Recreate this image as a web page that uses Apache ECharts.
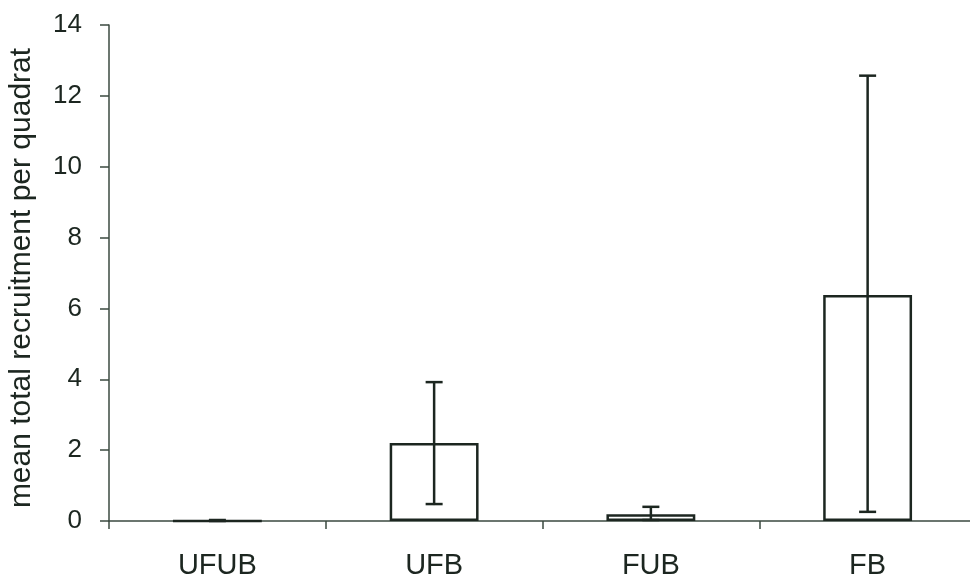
<!DOCTYPE html>
<html>
<head>
<meta charset="utf-8">
<script src="https://cdn.jsdelivr.net/npm/echarts@6/dist/echarts.min.js"></script>
<style>
html,body{margin:0;padding:0;background:#fff;}
#chart{width:970px;height:581px;}
</style>
</head>
<body>
<div id="chart"></div>
<script>
var categories = ['UFUB', 'UFB', 'FUB', 'FB'];
var means = [0, 2.2, 0.19, 6.38];
var errLow = [0, 0.45, 0, 0.23];
var errHigh = [0, 3.92, 0.4, 12.57];
var yTicks = [0, 2, 4, 6, 8, 10, 12, 14];

var ink = '#1c2620';
var axisInk = '#3b4a40';
var font = 'Liberation Sans, Arial, sans-serif';
var chart = echarts.init(document.getElementById('chart'));

var errData = categories.map(function (c, i) { return [i, errLow[i], errHigh[i]]; });

chart.setOption({
  animation: false,
  backgroundColor: '#ffffff',
  grid: { left: 109, top: 25, right: -6, bottom: 60, containLabel: false, outerBoundsMode: 'none' },
  xAxis: {
    type: 'category',
    data: categories,
    axisLine: { lineStyle: { color: axisInk, width: 1.5 } },
    axisTick: { show: true, length: 8, lineStyle: { color: axisInk, width: 1.5 } },
    axisLabel: { color: ink, fontFamily: font, fontSize: 29, margin: 30 }
  },
  yAxis: {
    type: 'value',
    min: yTicks[0],
    max: yTicks[yTicks.length - 1],
    interval: 2,
    name: 'mean total recruitment per quadrat',
    nameLocation: 'middle',
    nameGap: 72,
    nameTextStyle: { color: ink, fontFamily: font, fontSize: 30, padding: [0, 10, 0, 0] },
    axisLine: { show: true, lineStyle: { color: axisInk, width: 1.5 } },
    axisTick: { show: true, length: 9, lineStyle: { color: axisInk, width: 1.5 } },
    axisLabel: { color: ink, fontFamily: font, fontSize: 26, margin: 27 },
    splitLine: { show: false }
  },
  series: [
    {
      type: 'bar',
      data: means,
      barWidth: '41%',
      itemStyle: { color: '#ffffff', borderColor: ink, borderWidth: 2.5 },
      z: 2
    },
    {
      type: 'custom',
      data: errData,
      z: 3,
      renderItem: function (params, api) {
        var x = api.value(0);
        var lo = api.coord([x, api.value(1)]);
        var hi = api.coord([x, api.value(2)]);
        var hw = 8.5;
        var st = { stroke: ink, lineWidth: 2.5 };
        return {
          type: 'group',
          children: [
            { type: 'line', shape: { x1: lo[0], y1: lo[1], x2: hi[0], y2: hi[1] }, style: st },
            { type: 'line', shape: { x1: hi[0] - hw, y1: hi[1], x2: hi[0] + hw, y2: hi[1] }, style: st },
            { type: 'line', shape: { x1: lo[0] - hw, y1: lo[1] - 1, x2: lo[0] + hw, y2: lo[1] - 1 }, style: st }
          ]
        };
      }
    }
  ]
});
</script>
</body>
</html>
